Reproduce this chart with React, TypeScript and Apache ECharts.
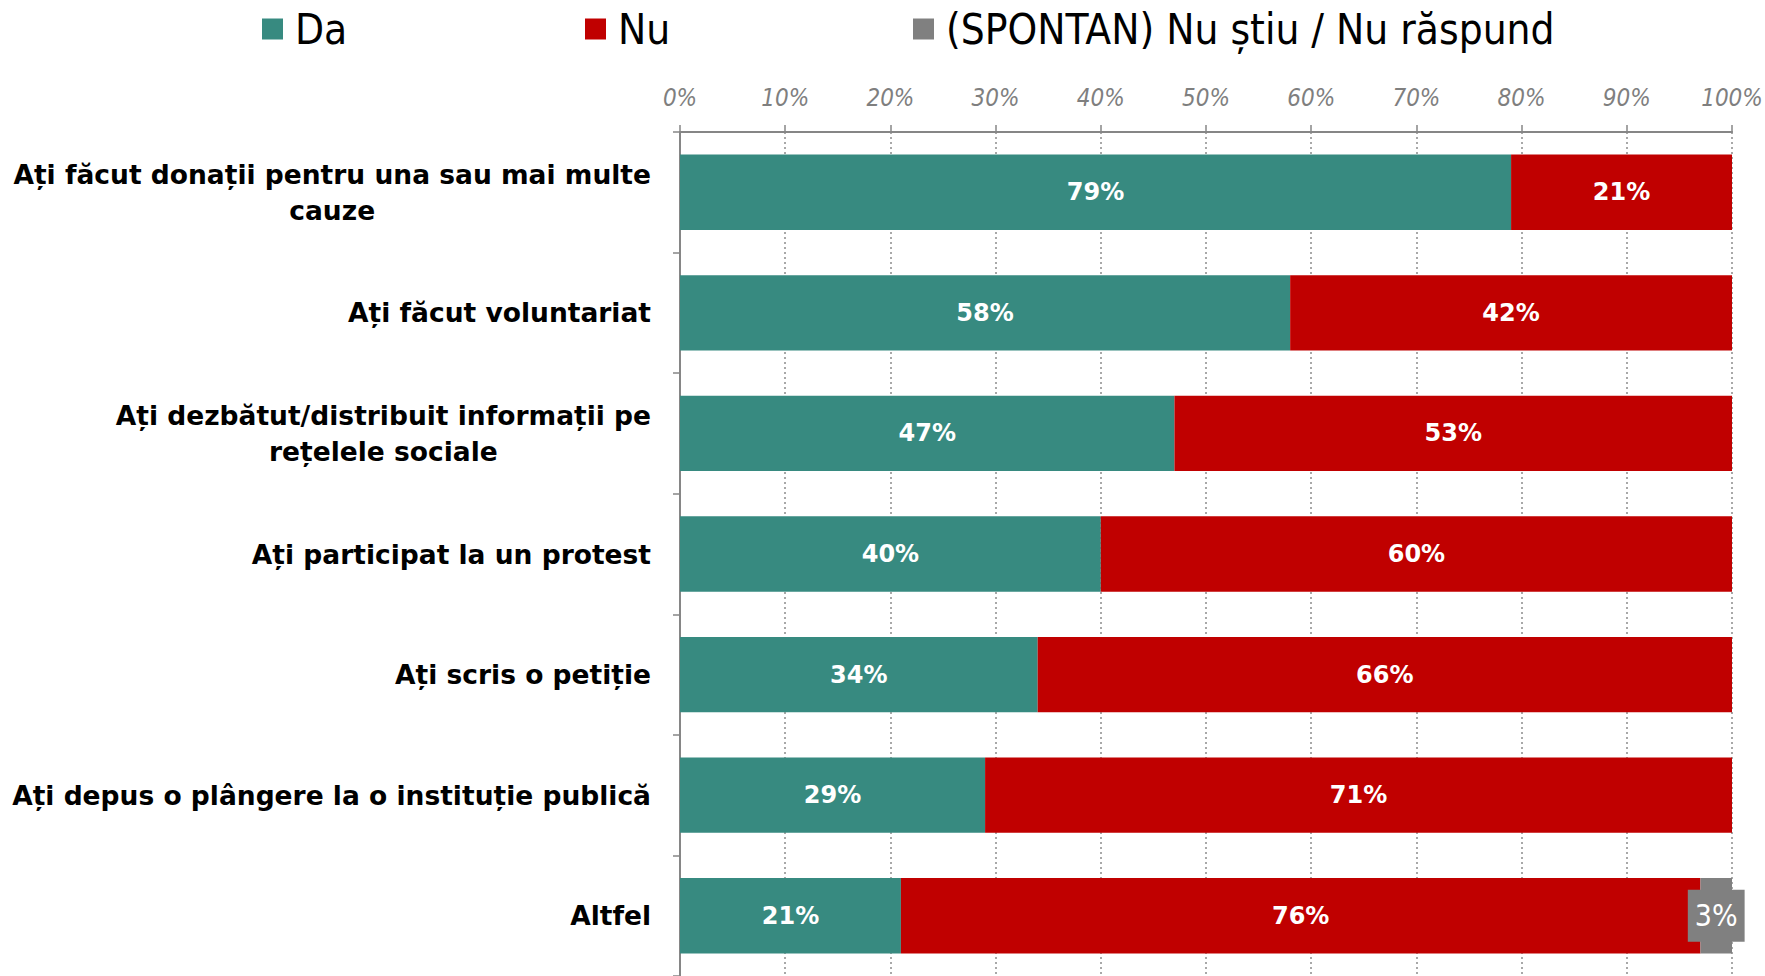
import React, { useEffect, useRef } from "react";
import * as echarts from "echarts";

const categories = [
  "Ați făcut donații pentru una sau mai multe\ncauze",
  "Ați făcut voluntariat",
  "Ați dezbătut/distribuit informații pe\nrețelele sociale",
  "Ați participat la un protest",
  "Ați scris o petiție",
  "Ați depus o plângere la o instituție publică",
  "Altfel",
];
const seriesNames = ["Da", "Nu", "(SPONTAN) Nu știu / Nu răspund"];
const daValues = [79, 58, 47, 40, 34, 29, 21];
const nuValues = [21, 42, 53, 60, 66, 71, 76];
const nsValues = [0, 0, 0, 0, 0, 0, 3];

const COLORS = ["#378A80", "#C00000", "#808080"];
const NARROW = "'Liberation Sans Narrow', 'DejaVu Sans Condensed', 'DejaVu Sans', sans-serif";
const BOLD = "'DejaVu Sans', sans-serif";

export default function App() {
  const ref = useRef<HTMLDivElement>(null);
  useEffect(() => {
    if (!ref.current) return;
    const chart = echarts.init(ref.current, null, { renderer: "svg" });
    const legendLefts = [262, 585, 913];
    const barLabel = {
      show: true,
      position: "inside",
      color: "#fff",
      fontFamily: BOLD,
      fontWeight: "bold",
      fontSize: 24,
      formatter: "{c}%",
    };
    chart.setOption({
      animation: false,
      backgroundColor: "#fff",
      legend: seriesNames.map((n, i) => ({
        data: [n],
        left: legendLefts[i],
        top: 8,
        padding: 0,
        icon: "rect",
        itemWidth: 21,
        itemHeight: 21,
        selectedMode: false,
        textStyle: {
          fontSize: 42,
          fontFamily: NARROW,
          color: "#000",
          padding: [0, 0, 0, 7],
        },
      })),
      grid: {
        left: 680,
        right: 33,
        top: 132,
        bottom: 0,
        containLabel: false,
        outerBoundsMode: "none",
      },
      xAxis: {
        type: "value",
        position: "top",
        min: 0,
        max: 100,
        interval: 10,
        axisLine: { show: true, lineStyle: { color: "#868686", width: 2 } },
        axisTick: { show: true, length: 7, lineStyle: { color: "#868686", width: 1.5 } },
        splitLine: { show: true, lineStyle: { color: "#8c8c8c", type: [2, 3], width: 1.5 } },
        axisLabel: {
          formatter: "{value}%",
          color: "#7f7f7f",
          fontStyle: "italic",
          fontFamily: NARROW,
          fontSize: 24,
          margin: 22,
        },
      },
      yAxis: {
        type: "category",
        inverse: true,
        data: categories,
        axisLine: { show: true, lineStyle: { color: "#868686", width: 2 } },
        axisTick: { show: true, length: 7, lineStyle: { color: "#868686", width: 1.5 } },
        splitLine: { show: false },
        axisLabel: {
          margin: 29,
          formatter: (v: string) =>
            v
              .split("\n")
              .map((l) => `{c|${l}}`)
              .join("\n"),
          rich: {
            c: {
              fontSize: 26.5,
              fontWeight: "bold",
              fontFamily: BOLD,
              color: "#000",
              align: "center",
              lineHeight: 36,
            },
          },
        },
      },
      series: [
        {
          name: seriesNames[0],
          type: "bar",
          stack: "s",
          barCategoryGap: "37.5%",
          itemStyle: { color: COLORS[0] },
          label: barLabel,
          data: daValues,
        },
        {
          name: seriesNames[1],
          type: "bar",
          stack: "s",
          barCategoryGap: "37.5%",
          itemStyle: { color: COLORS[1] },
          label: barLabel,
          data: nuValues,
        },
        {
          name: seriesNames[2],
          type: "bar",
          stack: "s",
          barCategoryGap: "37.5%",
          itemStyle: { color: COLORS[2] },
          data: nsValues.map((v) => ({
            value: v,
            label: {
              show: v > 0,
              position: "inside",
              formatter: "{c}%",
              color: "#fff",
              fontFamily: NARROW,
              fontWeight: "normal",
              fontSize: 30,
              lineHeight: 36,
              backgroundColor: COLORS[2],
              padding: [8, 7],
            },
          })),
        },
      ],
    });
    return () => chart.dispose();
  }, []);
  return (
    <div
      ref={ref}
      style={{ position: "absolute", left: 0, top: 0, width: 1765, height: 976 }}
    />
  );
}
